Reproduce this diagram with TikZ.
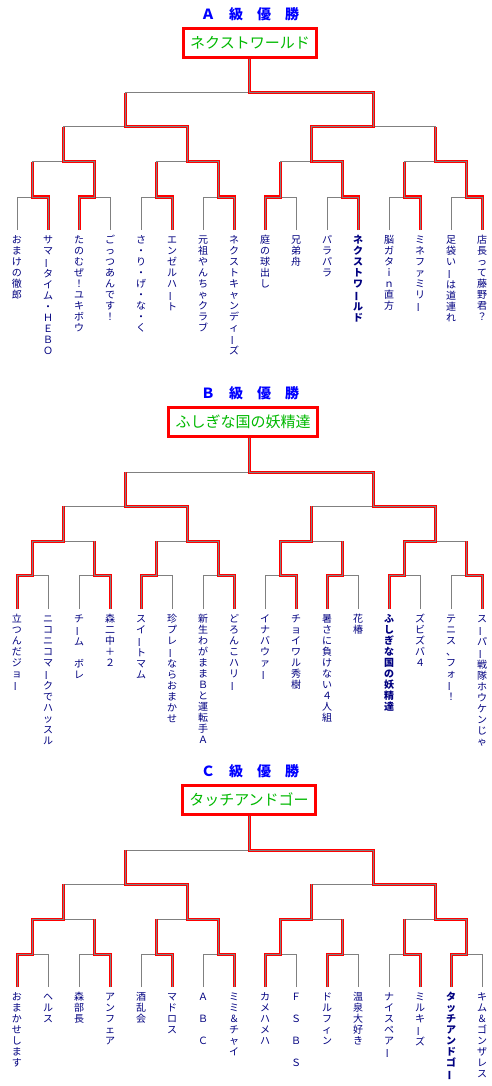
\documentclass[tikz,border=0pt]{standalone}
\usepackage{fontspec}
\usepackage{graphicx}
\setmainfont{Noto Sans CJK JP}
\usetikzlibrary{calc}

\definecolor{linegray}{RGB}{128,128,128}
\definecolor{leafnavy}{RGB}{0,0,128}
\definecolor{champgreen}{RGB}{0,185,0}

% vertical (tategaki) text: one character per cell
\makeatletter
\def\tate@bar{ー}
\newcommand\tate[1]{\expandafter\tate@i\expandafter{#1}}
\newcommand\tate@i[1]{\vbox{\offinterlineskip\@tfor\tate@c:=#1\do{\tate@cell}}}
\newcommand\tate@cell{\hbox to 11pt{\vrule height 8.8pt depth 2.2pt width 0pt\hss
  \ifx\tate@c\tate@bar\rotatebox[origin=c]{90}{ー}\else\tate@c\fi\hss}}
\makeatother

\begin{document}
\begin{tikzpicture}[
    x=1pt,y=-1pt,
    classtitle/.style={text=blue,font=\fontsize{14}{14}\selectfont\bfseries,inner sep=0pt},
    champbox/.style={draw=red,line width=3pt,fill=white,text=champgreen,font=\fontsize{15}{15}\selectfont,
        minimum height=29pt,inner xsep=7pt,inner ysep=0pt},
    leaf/.style={anchor=north,text=leafnavy,font=\fontsize{10}{11}\selectfont,inner xsep=0pt,inner ysep=5pt,outer sep=0pt},
    winleaf/.style={leaf,font=\fontsize{10}{11}\selectfont\bfseries},
    loseline/.style={draw=linegray,line width=1pt},
    winline/.style={draw=red,double=linegray,double distance=1pt,line width=1pt}
]
    \path[fill=white] (0,0) rectangle (491,1086);
    \useasboundingbox (0,0) rectangle (491,1086);

    % ---------------- A class ----------------
    \node[classtitle] (titleA) at (250,14) {Ａ　級　優　勝};
    \node[champbox] (champA) at (250,43) {ネクストワールド};
    \foreach \sty/\nm [count=\i from 0] in {
        leaf/おまけの徹郎, leaf/サマータイム・ＨＥＢＯ, leaf/たのむぜ！ユキボウ, leaf/ごっつあんです！,
        leaf/さ・り・げ・な・く, leaf/エンゼルハート, leaf/元祖やんちゃクラブ, leaf/ネクストキャンディーズ,
        leaf/庭の球出し, leaf/兄弟舟, leaf/パラパラ, winleaf/ネクストワールド,
        leaf/脳ガタｉｎ直方, leaf/ミネファミリー, leaf/足袋いーは道連れ, leaf/店長って藤野君？}
        \node[\sty] (teamA\i) at ({17+31*\i},230) {\tate{\nm}};
    \foreach \j in {0,...,7} \coordinate (mA1-\j) at ({32.5+62*\j},197);
    \foreach \j in {0,...,3} \coordinate (mA2-\j) at ({63.5+124*\j},162);
    \foreach \j in {0,1} \coordinate (mA3-\j) at ({125.5+248*\j},127);
    \coordinate (finA) at (249.5,93);

    \foreach \i in {0,...,15} {\pgfmathtruncatemacro\p{\i/2} \draw[loseline] (teamA\i.north) |- (mA1-\p);}
    \foreach \j in {0,...,7} {\pgfmathtruncatemacro\p{\j/2} \draw[loseline] (mA1-\j) |- (mA2-\p);}
    \foreach \j in {0,...,3} {\pgfmathtruncatemacro\p{\j/2} \draw[loseline] (mA2-\j) |- (mA3-\p);}
    \foreach \j in {0,1} \draw[loseline] (mA3-\j) |- (finA);

    \foreach \w [count=\j from 0] in {1,2,5,7,8,11,13,15}
        {\pgfmathtruncatemacro\p{\j/2} \draw[winline] (teamA\w.north) |- (mA1-\j) -- (mA1-\j |- mA2-\p);}
    \foreach \w [count=\j from 0] in {1,3,5,7}
        {\pgfmathtruncatemacro\p{\j/2} \draw[winline] (mA1-\w) |- (mA2-\j) -- (mA2-\j |- mA3-\p);}
    \foreach \w [count=\j from 0] in {1,2}
        \draw[winline] (mA2-\w) |- (mA3-\j) -- (mA3-\j |- finA);
    \draw[winline] (mA3-1) |- (finA) -- (finA |- champA.south);

    % ---------------- B class ----------------
    \begin{scope}[yshift=-379pt]
    \node[classtitle] (titleB) at (250,14) {Ｂ　級　優　勝};
    \node[champbox] (champB) at (243,43) {ふしぎな国の妖精達};
    \foreach \sty/\nm [count=\i from 0] in {
        leaf/立つんだジョー, leaf/ニコニコマークでハッスル, leaf/チーム　ボレ, leaf/森二中＋２,
        leaf/スイートマム, leaf/珍プレーならおまかせ, leaf/新生わがままＢと運転手Ａ, leaf/どろんこハリー,
        leaf/イナバウァー, leaf/チョイワル秀樹, leaf/暑さに負けない４人組, leaf/花椿,
        winleaf/ふしぎな国の妖精達, leaf/ズビズバ４, leaf/テニス、フォー！, leaf/スーパー戦隊ホウケンじゃ}
        \node[\sty] (teamB\i) at ({17+31*\i},230) {\tate{\nm}};
    \foreach \j in {0,...,7} \coordinate (mB1-\j) at ({32.5+62*\j},196);
    \foreach \j in {0,...,3} \coordinate (mB2-\j) at ({63.5+124*\j},162);
    \foreach \j in {0,1} \coordinate (mB3-\j) at ({125.5+248*\j},127);
    \coordinate (finB) at (249.5,93);

    \foreach \i in {0,...,15} {\pgfmathtruncatemacro\p{\i/2} \draw[loseline] (teamB\i.north) |- (mB1-\p);}
    \foreach \j in {0,...,7} {\pgfmathtruncatemacro\p{\j/2} \draw[loseline] (mB1-\j) |- (mB2-\p);}
    \foreach \j in {0,...,3} {\pgfmathtruncatemacro\p{\j/2} \draw[loseline] (mB2-\j) |- (mB3-\p);}
    \foreach \j in {0,1} \draw[loseline] (mB3-\j) |- (finB);

    \foreach \w [count=\j from 0] in {0,3,4,7,9,10,12,15}
        {\pgfmathtruncatemacro\p{\j/2} \draw[winline] (teamB\w.north) |- (mB1-\j) -- (mB1-\j |- mB2-\p);}
    \foreach \w [count=\j from 0] in {0,3,4,6}
        {\pgfmathtruncatemacro\p{\j/2} \draw[winline] (mB1-\w) |- (mB2-\j) -- (mB2-\j |- mB3-\p);}
    \foreach \w [count=\j from 0] in {1,3}
        \draw[winline] (mB2-\w) |- (mB3-\j) -- (mB3-\j |- finB);
    \draw[winline] (mB3-1) |- (finB) -- (finB |- champB.south);
    \end{scope}

    % ---------------- C class ----------------
    \begin{scope}[yshift=-757pt]
    \node[classtitle] (titleC) at (250,14) {Ｃ　級　優　勝};
    \node[champbox] (champC) at (249,43) {タッチアンドゴー};
    \foreach \sty/\nm [count=\i from 0] in {
        leaf/おまかせします, leaf/ヘルス, leaf/森部長, leaf/アンフェア,
        leaf/酒乱会, leaf/マドロス, leaf/Ａ　Ｂ　Ｃ, leaf/ミミ＆チャイ,
        leaf/カメハメハ, leaf/Ｆ　Ｓ　Ｂ　Ｓ, leaf/ドルフィン, leaf/温泉大好き,
        leaf/ナイスペアー, leaf/ミルキーズ, winleaf/タッチアンドゴー, leaf/キム＆ゴンザレス}
        \node[\sty] (teamC\i) at ({17+31*\i},230) {\tate{\nm}};
    \foreach \j in {0,...,7} \coordinate (mC1-\j) at ({32.5+62*\j},197);
    \foreach \j in {0,...,3} \coordinate (mC2-\j) at ({63.5+124*\j},162);
    \foreach \j in {0,1} \coordinate (mC3-\j) at ({125.5+248*\j},127);
    \coordinate (finC) at (249.5,93);

    \foreach \i in {0,...,15} {\pgfmathtruncatemacro\p{\i/2} \draw[loseline] (teamC\i.north) |- (mC1-\p);}
    \foreach \j in {0,...,7} {\pgfmathtruncatemacro\p{\j/2} \draw[loseline] (mC1-\j) |- (mC2-\p);}
    \foreach \j in {0,...,3} {\pgfmathtruncatemacro\p{\j/2} \draw[loseline] (mC2-\j) |- (mC3-\p);}
    \foreach \j in {0,1} \draw[loseline] (mC3-\j) |- (finC);

    \foreach \w [count=\j from 0] in {0,3,5,7,8,10,13,14}
        {\pgfmathtruncatemacro\p{\j/2} \draw[winline] (teamC\w.north) |- (mC1-\j) -- (mC1-\j |- mC2-\p);}
    \foreach \w [count=\j from 0] in {0,3,4,7}
        {\pgfmathtruncatemacro\p{\j/2} \draw[winline] (mC1-\w) |- (mC2-\j) -- (mC2-\j |- mC3-\p);}
    \foreach \w [count=\j from 0] in {1,3}
        \draw[winline] (mC2-\w) |- (mC3-\j) -- (mC3-\j |- finC);
    \draw[winline] (mC3-1) |- (finC) -- (finC |- champC.south);
    \end{scope}
\end{tikzpicture}
\end{document}
